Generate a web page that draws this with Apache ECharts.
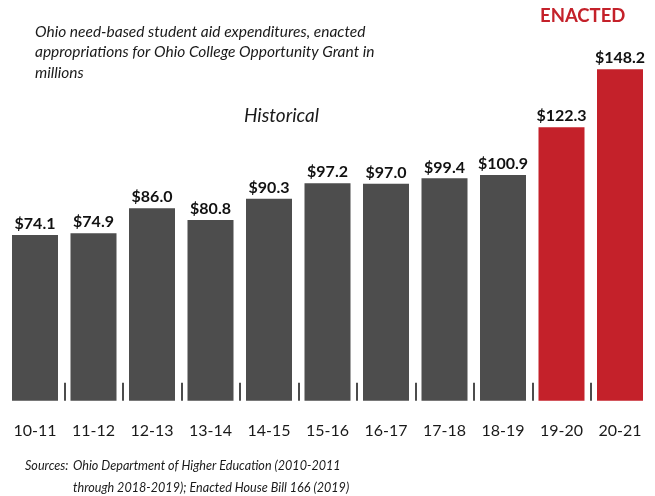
<!DOCTYPE html>
<html><head><meta charset="utf-8">
<script src="https://cdn.jsdelivr.net/npm/echarts@6/dist/echarts.min.js"></script>
<style>html,body{margin:0;padding:0;background:#fff}#c{width:655px;height:496px}</style>
</head><body><div id="c"></div>
<script>
const categories = ['10-11','11-12','12-13','13-14','14-15','15-16','16-17','17-18','18-19','19-20','20-21'];
const values = [74.1, 74.9, 86.0, 80.8, 90.3, 97.2, 97.0, 99.4, 100.9, 122.3, 148.2];
const enacted = [false,false,false,false,false,false,false,false,false,true,true];
const titleText = 'Ohio need-based student aid expenditures, enacted\nappropriations for Ohio College Opportunity Grant in\nmillions';
const sourcesLines = ['Ohio Department of Higher Education (2010-2011', 'through 2018-2019); Enacted House Bill 166 (2019)'];

const GRAY = '#4d4d4d', RED = '#c4212a';
const FONT = 'Lato, "Open Sans", sans-serif';
const chart = echarts.init(document.getElementById('c'));
chart.setOption({
  animation: false,
  backgroundColor: '#fff',
  grid: [
    {left: 5.75, right: 5.75, top: 42.8, bottom: 95.3},
    {left: 5.75, right: 5.75, top: 382.7, bottom: 95.3}
  ],
  xAxis: [
    {type: 'category', data: categories, gridIndex: 0,
     axisLine: {show: false}, axisTick: {show: false},
     axisLabel: {color: '#1a1a1a', fontSize: 16, fontFamily: FONT, margin: 22}},
    {type: 'category', data: categories, gridIndex: 1,
     axisLine: {show: false}, axisTick: {show: false}, axisLabel: {show: false},
     splitLine: {show: true, showMinLine: false, showMaxLine: false, lineStyle: {color: '#111', width: 1.5}}}
  ],
  yAxis: [
    {type: 'value', min: 0, max: 160, gridIndex: 0, show: false, splitLine: {show: false}},
    {type: 'value', min: 0, max: 1, gridIndex: 1, show: false, splitLine: {show: false}}
  ],
  series: [{
    type: 'bar',
    data: values.map((v, i) => ({value: v, itemStyle: {color: enacted[i] ? RED : GRAY}})),
    barWidth: 46,
    label: {show: true, position: 'top', distance: 3, fontFamily: FONT, fontWeight: 'bold', fontSize: 16, color: '#111',
      formatter: p => '$' + p.value.toFixed(1)}
  }],
  title: {
    text: titleText, left: 35, top: 21.5, padding: 0,
    textStyle: {fontFamily: FONT, fontStyle: 'italic', fontWeight: 'normal', fontSize: 15.5, lineHeight: 20.5, color: '#1a1a1a'}
  },
  graphic: [
    {type: 'text', left: 244, top: 106, style: {text: 'Historical', font: 'italic 19px ' + FONT, fill: '#1a1a1a'}},
    {type: 'text', left: 540, top: 7, style: {text: 'ENACTED', font: 'bold 18.5px ' + FONT, fill: RED}},
    {type: 'text', left: 25, top: 459, style: {text: 'Sources:', font: 'italic 12.6px ' + FONT, fill: '#1a1a1a'}},
    {type: 'text', left: 73, top: 459, style: {text: sourcesLines[0], font: 'italic 12.6px ' + FONT, fill: '#1a1a1a'}},
    {type: 'text', left: 73, top: 481, style: {text: sourcesLines[1], font: 'italic 12.6px ' + FONT, fill: '#1a1a1a'}}
  ]
});
</script></body></html>
